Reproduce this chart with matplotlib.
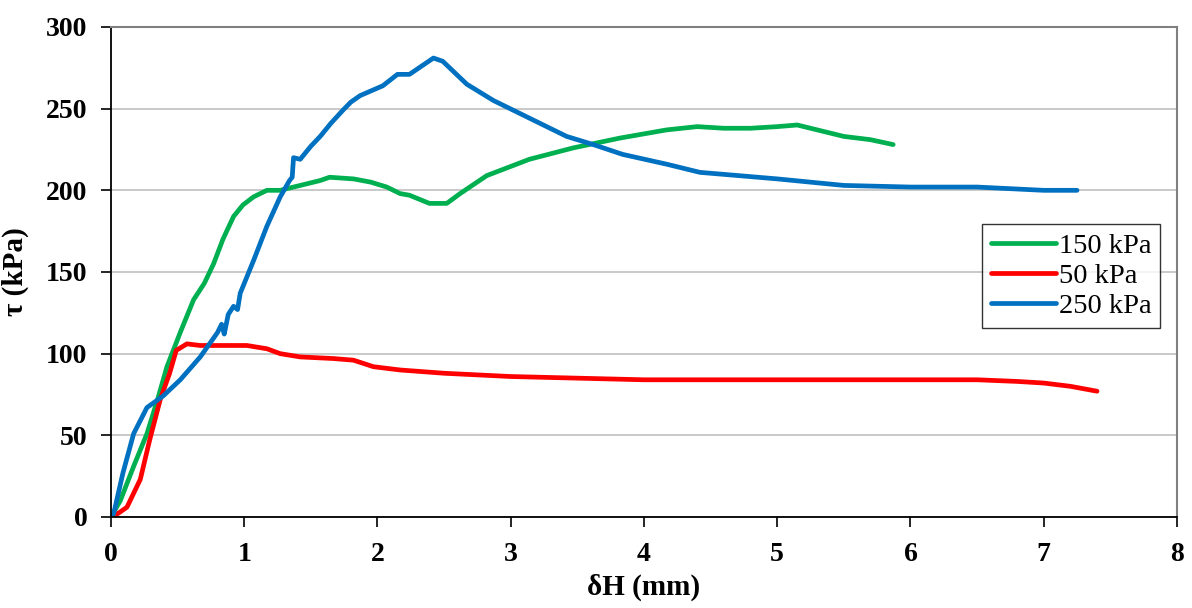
import numpy as np
import matplotlib.pyplot as plt

plt.rcParams['font.family'] = ['Liberation Serif', 'DejaVu Serif']

# --- shear displacement (mm) vs shear stress (kPa) for three normal loads
dh_150 = [0, 0.07, 0.17, 0.27, 0.35, 0.42, 0.52, 0.62, 0.70, 0.77, 0.84, 0.92, 0.99,
          1.07, 1.17, 1.27, 1.42, 1.57, 1.64, 1.82, 1.95, 2.07, 2.17, 2.24, 2.39,
          2.52, 2.62, 2.82, 3.14, 3.47, 3.82, 4.17, 4.40, 4.60, 4.80, 5.00, 5.15,
          5.30, 5.50, 5.70, 5.87]
tau_150 = [0, 10, 31, 51, 72, 92, 113, 133, 143, 155, 170, 184, 191,
           196, 200, 200, 203, 206, 208, 207, 205, 202, 198, 197, 192,
           192, 198, 209, 219, 226, 232, 237, 239, 238, 238, 239, 240,
           237, 233, 231, 228]

dh_50 = [0, 0.05, 0.12, 0.22, 0.29, 0.37, 0.44, 0.49, 0.57, 0.67, 1.02, 1.17,
         1.27, 1.42, 1.67, 1.82, 1.97, 2.17, 2.5, 3.0, 3.5, 4.0, 4.5, 5.0, 5.5,
         6.0, 6.5, 6.8, 7.0, 7.2, 7.40]
tau_50 = [0, 2, 6, 23, 47, 72, 88, 102, 106, 105, 105, 103,
          100, 98, 97, 96, 92, 90, 88, 86, 85, 84, 84, 84, 84,
          84, 84, 83, 82, 80, 77]

dh_250 = [0, 0.02, 0.09, 0.17, 0.27, 0.39, 0.52, 0.67, 0.80, 0.83, 0.85, 0.88,
          0.92, 0.95, 0.97, 1.07, 1.17, 1.27, 1.34, 1.36, 1.37, 1.42, 1.50,
          1.57, 1.65, 1.74, 1.80, 1.87, 2.04, 2.15, 2.24, 2.33, 2.42, 2.49,
          2.67, 2.87, 3.17, 3.42, 3.62, 3.84, 4.17, 4.42, 5.0, 5.5, 6.0, 6.5,
          7.0, 7.25]
tau_250 = [0, 2, 27, 51, 67, 74, 84, 98, 113, 118, 112, 124,
           129, 127, 137, 157, 178, 196, 206, 208, 220, 219, 227,
           233, 241, 249, 254, 258, 264, 271, 271, 276, 281, 279,
           265, 255, 243, 233, 228, 222, 216, 211, 207, 203, 202, 202,
           200, 200]

series = [("150 kPa", dh_150, tau_150, "#00B050"),
          ("50 kPa", dh_50, tau_50, "#FF0000"),
          ("250 kPa", dh_250, tau_250, "#0070C0")]

fig = plt.figure(figsize=(11.92, 6.08), dpi=100)
ax = fig.add_axes([0.0931, 0.1497, 0.8943, 0.8059])

for label, x, y, c in series:
    ax.plot(x, y, color=c, lw=3.4, label=label, solid_capstyle='round',
            solid_joinstyle='round')

ax.set_xlim(0, 8)
ax.set_ylim(0, 300)
ax.set_xticks(np.arange(0, 9, 1))
ax.set_yticks(np.arange(0, 301, 50))
ax.yaxis.grid(True, color='#c0c0c0', lw=1.2)
ax.set_axisbelow(True)

for side in ('top', 'right'):
    ax.spines[side].set_color('#808080')
    ax.spines[side].set_linewidth(1.5)
for side in ('left', 'bottom'):
    ax.spines[side].set_color('black')
    ax.spines[side].set_linewidth(1.3)

ax.tick_params(direction='out', length=7, width=1.2, labelsize=20)
ax.tick_params(axis='x', pad=11)
ax.tick_params(axis='y', pad=10)
for t in ax.get_xticklabels() + ax.get_yticklabels():
    t.set_fontweight('bold')

ax.set_xlabel("δH (mm)", fontsize=21, fontweight='bold', labelpad=5)
ax.set_ylabel("τ (kPa)", fontsize=21, fontweight='bold', labelpad=12)

leg = ax.legend(loc='upper left', bbox_to_anchor=(0.8175, 0.597), fontsize=20.5,
                frameon=True, fancybox=False, handlelength=2.3, handletextpad=0.1,
                borderpad=0.3, labelspacing=0.15, borderaxespad=0)
leg.get_frame().set_edgecolor('black')
leg.get_frame().set_linewidth(1.0)

fig.savefig("out.png", dpi=100)
